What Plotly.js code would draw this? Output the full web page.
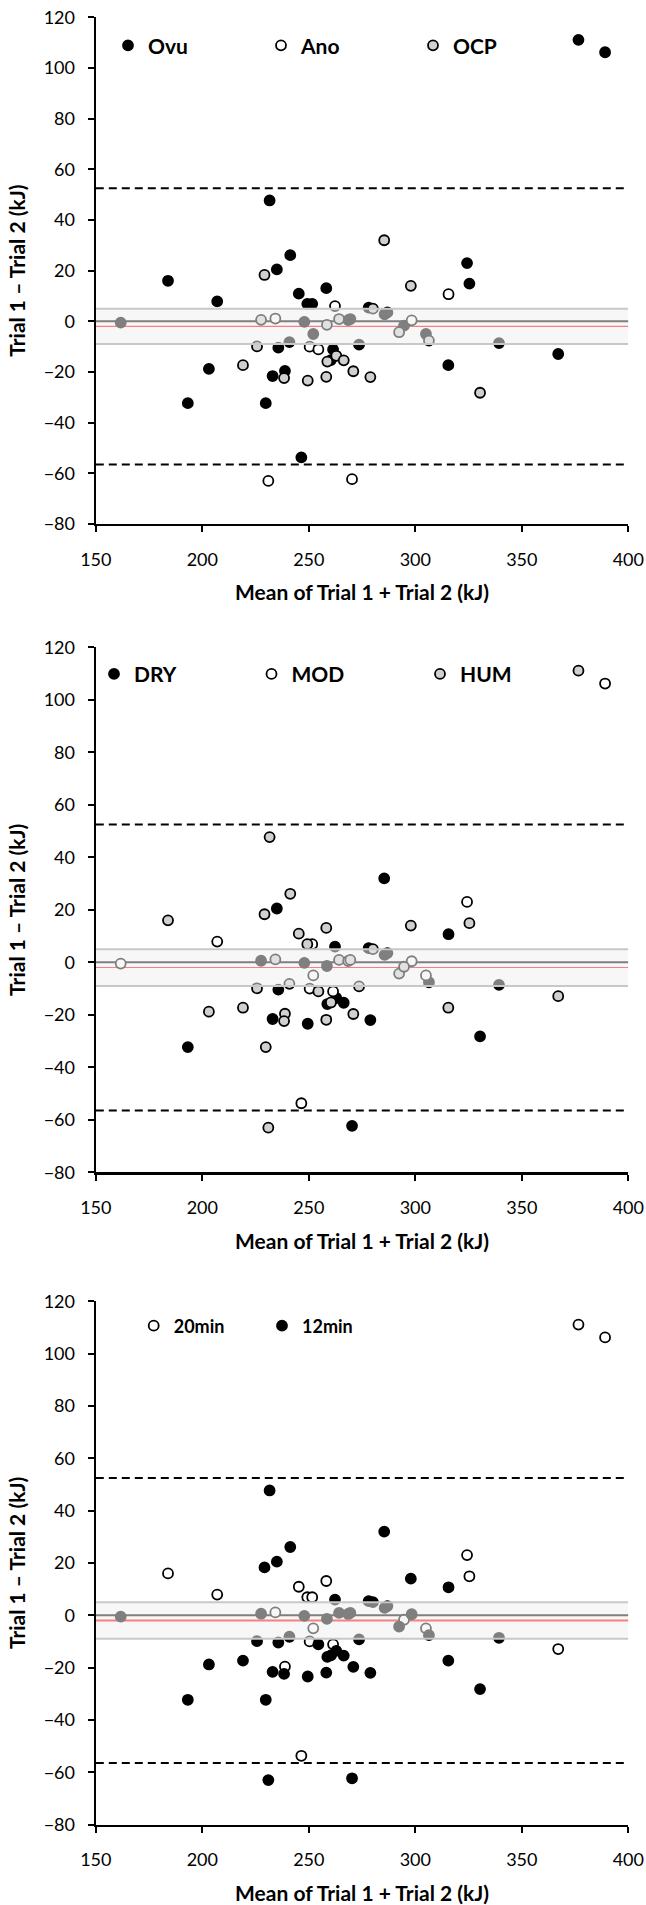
<!DOCTYPE html>
<html><head><meta charset="utf-8">
<script src="https://cdn.plot.ly/plotly-3.0.1.min.js"></script>
<style>html,body{margin:0;padding:0;background:#fff}</style>
</head><body><div id="chart" style="width:646px;height:1905px"></div>
<script>
// ---- data ----
const meanKJ = [376.6, 389.1, 231.6, 285.4, 241.3, 324.3, 235.0, 229.2, 183.9, 325.4,
  297.9, 258.2, 315.6, 245.3, 207.0, 249.3, 251.6, 262.3, 278.1, 280.1,
  285.6, 286.9, 161.7, 227.6, 234.3, 247.9, 258.5, 264.2, 268.5, 269.5,
  252.1, 240.9, 292.4, 294.7, 298.3, 305.0, 306.4, 339.3, 225.7, 235.7,
  250.4, 254.5, 261.4, 273.6, 367.1, 262.9, 258.7, 260.4, 266.4, 219.1,
  315.5, 203.1, 238.8, 270.9, 233.0, 238.4, 258.2, 278.9, 249.5, 330.4,
  193.2, 229.8, 246.5, 231.0, 270.3];
const diffKJ = [111.1, 106.2, 47.7, 32.0, 26.1, 23.0, 20.5, 18.3, 16.0, 14.9,
  14.0, 13.1, 10.7, 10.9, 7.9, 6.9, 6.9, 6.0, 5.4, 5.0,
  2.8, 3.5, -0.5, 0.6, 1.1, -0.2, -1.4, 0.9, 0.5, 0.9,
  -5.0, -8.2, -4.3, -1.7, 0.4, -5.0, -7.6, -8.6, -9.9, -10.4,
  -10.0, -11.1, -11.1, -9.2, -12.9, -13.6, -15.9, -15.3, -15.4, -17.3,
  -17.3, -18.8, -19.6, -19.7, -21.6, -22.4, -21.9, -22.0, -23.4, -28.2,
  -32.3, -32.3, -53.7, -63.0, -62.3];
const cycleGroup = ['Ovu','Ovu','Ovu','OCP','Ovu','Ovu','Ovu','OCP','Ovu','Ovu',
  'OCP','Ovu','Ano','Ovu','Ovu','Ovu','Ovu','Ano','Ovu','OCP',
  'Ovu','Ovu','Ovu','OCP','Ano','Ovu','OCP','OCP','Ovu','Ovu',
  'Ovu','Ovu','OCP','Ovu','Ano','Ovu','OCP','Ovu','OCP','Ovu',
  'Ano','Ano','Ovu','Ovu','Ovu','OCP','OCP','Ovu','OCP','OCP',
  'Ovu','Ovu','Ovu','OCP','Ovu','OCP','OCP','OCP','OCP','OCP',
  'Ovu','Ovu','Ovu','Ano','Ano'];
const envGroup = ['HUM','MOD','HUM','DRY','HUM','MOD','DRY','HUM','HUM','HUM',
  'HUM','HUM','DRY','HUM','MOD','HUM','MOD','DRY','DRY','HUM',
  'DRY','DRY','MOD','DRY','HUM','DRY','DRY','HUM','HUM','HUM',
  'MOD','HUM','HUM','HUM','MOD','MOD','DRY','DRY','HUM','DRY',
  'MOD','HUM','MOD','HUM','HUM','DRY','DRY','HUM','DRY','HUM',
  'HUM','HUM','HUM','HUM','DRY','HUM','HUM','DRY','DRY','DRY',
  'DRY','HUM','MOD','HUM','DRY'];
const durGroup = ['20min','20min','12min','12min','12min','20min','12min','12min','20min','20min',
  '12min','20min','12min','20min','20min','20min','20min','12min','12min','12min',
  '12min','12min','12min','12min','20min','12min','12min','12min','12min','12min',
  '20min','12min','12min','20min','12min','20min','12min','12min','12min','12min',
  '20min','12min','20min','12min','20min','12min','12min','12min','12min','12min',
  '12min','12min','20min','12min','12min','12min','12min','12min','12min','12min',
  '12min','12min','20min','12min','12min'];
const cycleLabels = ['Ovu','Ano','OCP'];
const envLabels = ['DRY','MOD','HUM'];
const durLabels = ['20min','12min'];
const biasKJ = -2.0;
const bandKJ = [-9.0, 5.0];
const loaKJ = [-56.5, 52.5];
const xTickVals = [150, 200, 250, 300, 350, 400];
const yTickVals = [-80, -60, -40, -20, 0, 20, 40, 60, 80, 100, 120];

// ---- styling ----
const W = 646, H = 1905;
const FONT = 'Lato, "Open Sans", "DejaVu Sans", sans-serif';
const styleOf = {
  Ovu: {fill:'#000000'}, DRY: {fill:'#000000'}, '12min': {fill:'#000000'},
  Ano: {fill:'#ffffff'}, MOD: {fill:'#ffffff'}, '20min': {fill:'#ffffff'},
  OCP: {fill:'#d0d0d0'}, HUM: {fill:'#d0d0d0'}
};
const px2x = p => p / W;
const px2y = p => 1 - p / H;
const xDom = [px2x(95.8), px2x(628.3)];
const panels = [
  {groups: cycleGroup, labels: cycleLabels, top: 17.3, bot: 524.0,
   legX: [130, 283, 435], legY: 45.7, legSize: 21, redW: 1.4},
  {groups: envGroup, labels: envLabels, top: 647.3, bot: 1172.3,
   legX: [116, 273.5, 442], legY: 674.3, legSize: 21, redW: 1.1},
  {groups: durGroup, labels: durLabels, top: 1301.3, bot: 1824.6,
   legX: [155.7, 284], legY: 1326, legSize: 18, redW: 2.2}
];

const traces = [];
const layout = {
  width: W, height: H,
  margin: {l: 0, r: 0, t: 0, b: 0},
  paper_bgcolor: '#ffffff', plot_bgcolor: '#ffffff',
  showlegend: true,
  font: {family: FONT, color: '#000000'},
  shapes: []
};
let legendCount = 0;
panels.forEach((p, i) => {
  const sfx = i === 0 ? '' : String(i + 1);
  const xa = 'xaxis' + sfx, ya = 'yaxis' + sfx;
  const xr = 'x' + sfx, yr = 'y' + sfx;
  layout[xa] = {
    domain: xDom, anchor: yr, range: [150, 400], tickvals: xTickVals,
    showgrid: false, zeroline: false, showline: true, linecolor: '#000', linewidth: 2.2,
    ticks: 'outside', ticklen: 6, tickwidth: 2, tickcolor: '#000',
    tickfont: {family: FONT, size: 18, color: '#000'}, ticklabelstandoff: 12,
    title: {text: 'Mean of Trial 1 + Trial 2 (kJ)', standoff: 17,
            font: {family: FONT, size: 21, weight: 'bold', color: '#000'}}
  };
  layout[ya] = {
    domain: [px2y(p.bot), px2y(p.top)], anchor: xr, range: [-80, 120], tickvals: yTickVals,
    showgrid: false, zeroline: false, showline: true, linecolor: '#000', linewidth: 2.2,
    ticks: 'outside', ticklen: 6, tickwidth: 2, tickcolor: '#000',
    tickfont: {family: FONT, size: 18, color: '#000'}, ticklabelstandoff: 9,
    title: {text: 'Trial 1 \u2013 Trial 2 (kJ)', standoff: 12,
            font: {family: FONT, size: 21, weight: 'bold', color: '#000'}}
  };
  p.labels.forEach((lab, k) => {
    legendCount += 1;
    const lname = legendCount === 1 ? 'legend' : 'legend' + legendCount;
    const xs = [], ys = [];
    p.groups.forEach((g, j) => { if (g === lab) { xs.push(meanKJ[j]); ys.push(diffKJ[j]); } });
    traces.push({
      type: 'scatter', mode: 'markers', x: xs, y: ys, xaxis: xr, yaxis: yr,
      name: lab, legend: lname, hoverinfo: 'skip',
      marker: {size: 10, color: styleOf[lab].fill, line: {color: '#000', width: 1.8}}
    });
    layout[lname] = {
      x: px2x(p.legX[k] - 22), y: px2y(p.legY), xanchor: 'left', yanchor: 'middle',
      orientation: 'h', bgcolor: 'rgba(0,0,0,0)', borderwidth: 0,
      font: {family: FONT, size: p.legSize, weight: 'bold', color: '#000'}
    };
  });
  const S = layout.shapes;
  // limits of agreement (dashed)
  loaKJ.forEach(v => S.push({type: 'line', xref: xr, yref: yr, x0: 150, x1: 400, y0: v, y1: v,
    layer: 'below', line: {color: '#000', width: 2, dash: '8px,5px'}}));
  // zero and bias lines (under the markers)
  S.push({type: 'line', xref: xr, yref: yr, x0: 150, x1: 400, y0: 0, y1: 0,
    layer: 'below', line: {color: '#000', width: 2}});
  S.push({type: 'line', xref: xr, yref: yr, x0: 150, x1: 400, y0: biasKJ, y1: biasKJ,
    layer: 'below', line: {color: '#ff0000', width: p.redW}});
  // translucent band drawn over the markers
  S.push({type: 'rect', xref: xr, yref: yr, x0: 150, x1: 400, y0: bandKJ[0], y1: bandKJ[1],
    layer: 'above', fillcolor: 'rgba(240,240,240,0.53)', line: {width: 0}});
  bandKJ.forEach(v => S.push({type: 'line', xref: xr, yref: yr, x0: 150, x1: 400, y0: v, y1: v,
    layer: 'above', line: {color: '#c8c8c8', width: 2}}));
});

Plotly.newPlot('chart', traces, layout, {displayModeBar: false, staticPlot: true});
</script></body></html>
